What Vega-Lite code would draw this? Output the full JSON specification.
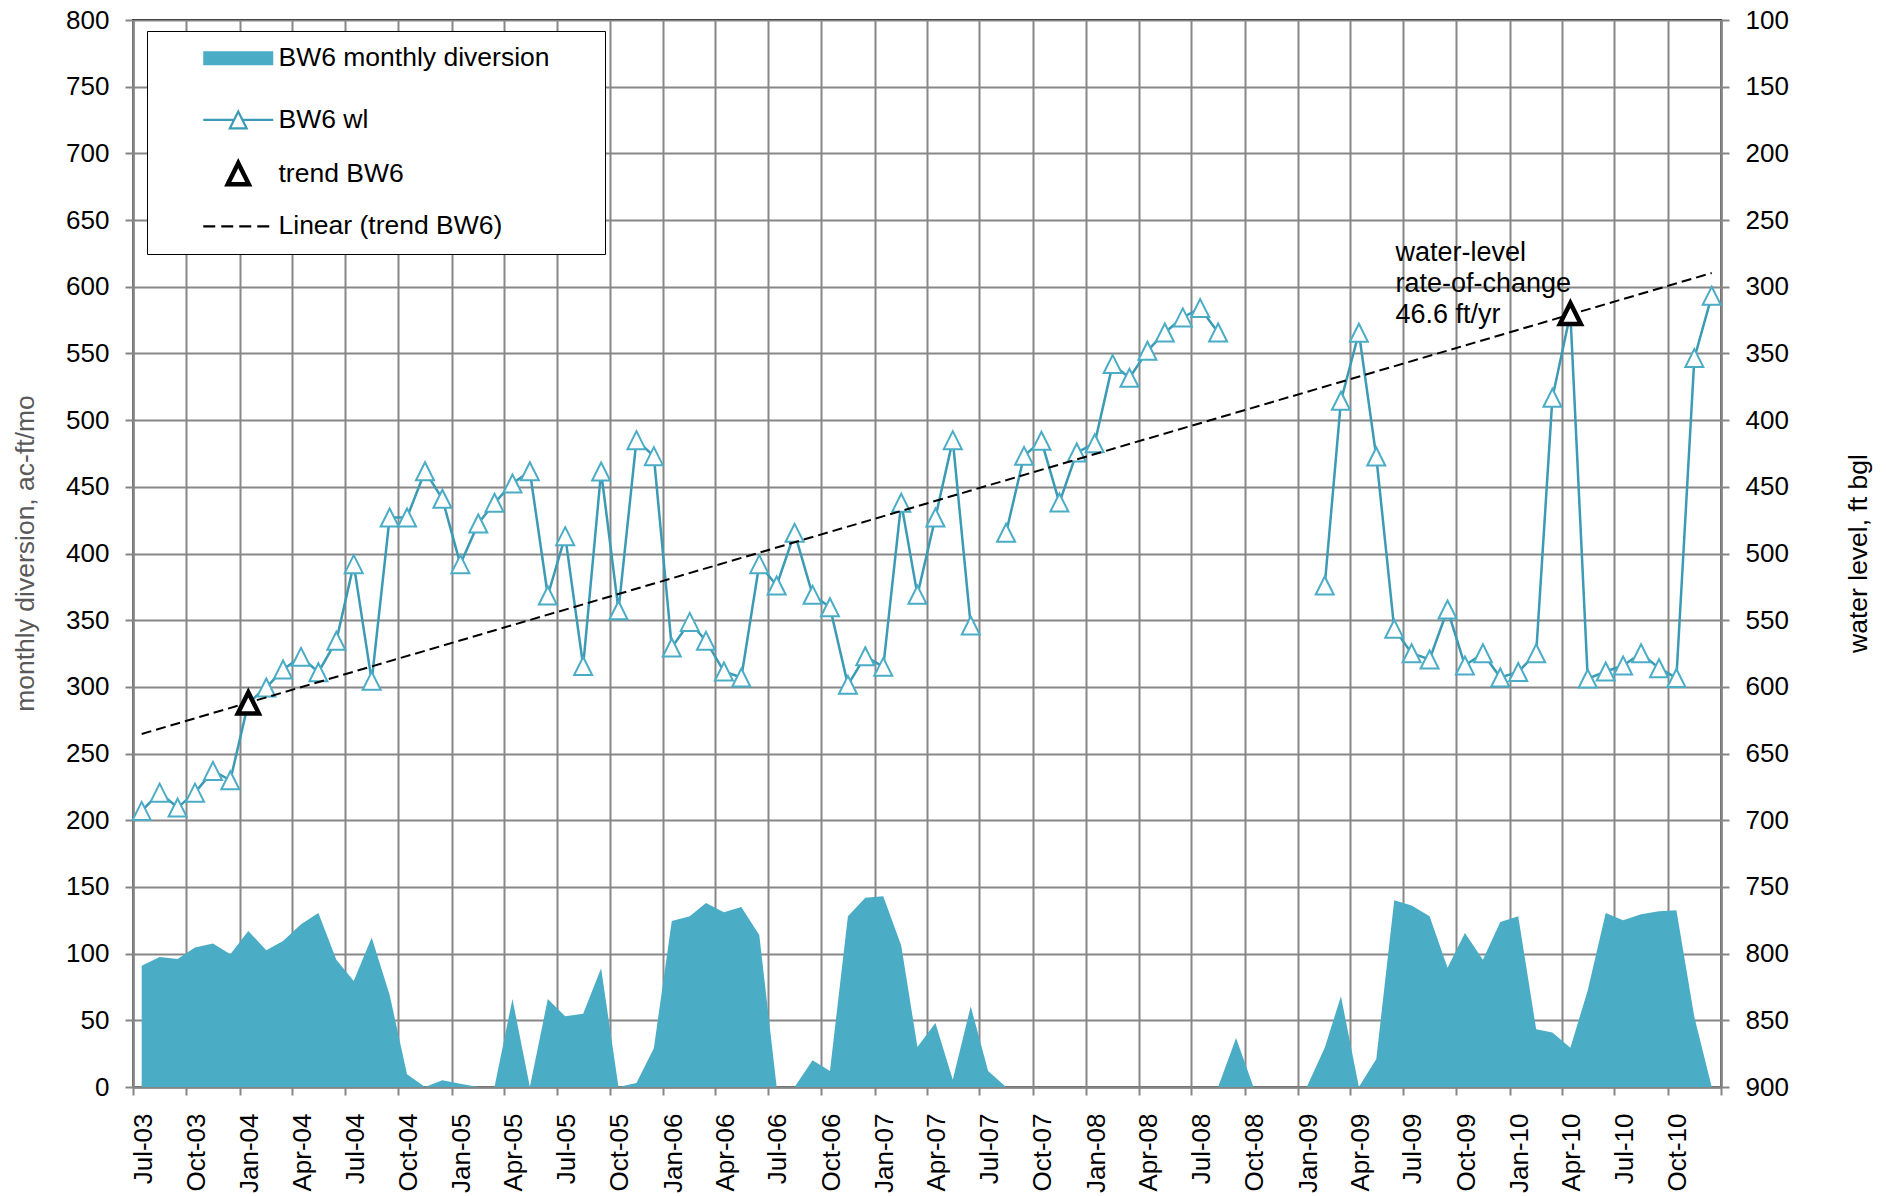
{
  "$schema": "https://vega.github.io/schema/vega-lite/v6.json",
  "width": 1588,
  "height": 1067,
  "autosize": {"type": "none"},
  "padding": {"left": 133, "top": 20, "right": 171, "bottom": 109},
  "background": "white",
  "datasets": {
    "monthly": [
      {"month": "2003-07-16", "diversion": 91, "wl": 693},
      {"month": "2003-08-16", "diversion": 97.5, "wl": 679.3},
      {"month": "2003-09-16", "diversion": 96, "wl": 690.5},
      {"month": "2003-10-16", "diversion": 104.5, "wl": 679.3},
      {"month": "2003-11-16", "diversion": 107.5, "wl": 663},
      {"month": "2003-12-16", "diversion": 99.5, "wl": 670},
      {"month": "2004-01-16", "diversion": 117, "wl": 612},
      {"month": "2004-02-16", "diversion": 102.5, "wl": 600.5},
      {"month": "2004-03-16", "diversion": 109.5, "wl": 587},
      {"month": "2004-04-16", "diversion": 122, "wl": 577.5},
      {"month": "2004-05-16", "diversion": 130.5, "wl": 589},
      {"month": "2004-06-16", "diversion": 95.5, "wl": 565.5},
      {"month": "2004-07-16", "diversion": 79.5, "wl": 508},
      {"month": "2004-08-16", "diversion": 112, "wl": 595.5},
      {"month": "2004-09-16", "diversion": 69, "wl": 473},
      {"month": "2004-10-16", "diversion": 9.5, "wl": 473},
      {"month": "2004-11-16", "diversion": 0, "wl": 438.3},
      {"month": "2004-12-16", "diversion": 5, "wl": 459},
      {"month": "2005-01-16", "diversion": 2.5, "wl": 508},
      {"month": "2005-02-16", "diversion": 0, "wl": 477.5},
      {"month": "2005-03-16", "diversion": 0, "wl": 462},
      {"month": "2005-04-16", "diversion": 66, "wl": 447.5},
      {"month": "2005-05-16", "diversion": 0, "wl": 438.3},
      {"month": "2005-06-16", "diversion": 66, "wl": 531.5},
      {"month": "2005-07-16", "diversion": 53, "wl": 487},
      {"month": "2005-08-16", "diversion": 55, "wl": 584.3},
      {"month": "2005-09-16", "diversion": 89, "wl": 438.5},
      {"month": "2005-10-16", "diversion": 0, "wl": 542.5},
      {"month": "2005-11-16", "diversion": 3, "wl": 415},
      {"month": "2005-12-16", "diversion": 29, "wl": 427},
      {"month": "2006-01-16", "diversion": 124.5, "wl": 570.5},
      {"month": "2006-02-16", "diversion": 128, "wl": 551.3},
      {"month": "2006-03-16", "diversion": 138, "wl": 565.5},
      {"month": "2006-04-16", "diversion": 131, "wl": 588.5},
      {"month": "2006-05-16", "diversion": 135, "wl": 593},
      {"month": "2006-06-16", "diversion": 114, "wl": 508},
      {"month": "2006-07-16", "diversion": 0, "wl": 524},
      {"month": "2006-08-16", "diversion": 0, "wl": 484.5},
      {"month": "2006-09-16", "diversion": 20, "wl": 531},
      {"month": "2006-10-16", "diversion": 12, "wl": 540.3},
      {"month": "2006-11-16", "diversion": 128, "wl": 598.5},
      {"month": "2006-12-16", "diversion": 141.8, "wl": 577},
      {"month": "2007-01-16", "diversion": 143, "wl": 585},
      {"month": "2007-02-16", "diversion": 106, "wl": 462},
      {"month": "2007-03-16", "diversion": 30, "wl": 531},
      {"month": "2007-04-16", "diversion": 48, "wl": 473},
      {"month": "2007-05-16", "diversion": 5.5, "wl": 415},
      {"month": "2007-06-16", "diversion": 60.5, "wl": 554},
      {"month": "2007-07-16", "diversion": 12, "wl": null},
      {"month": "2007-08-16", "diversion": 0, "wl": 484.5},
      {"month": "2007-09-16", "diversion": 0, "wl": 426.8},
      {"month": "2007-10-16", "diversion": 0, "wl": 415.5},
      {"month": "2007-11-16", "diversion": 0, "wl": 461.8},
      {"month": "2007-12-16", "diversion": 0, "wl": 424.3},
      {"month": "2008-01-16", "diversion": 0, "wl": 417.3},
      {"month": "2008-02-16", "diversion": 0, "wl": 358},
      {"month": "2008-03-16", "diversion": 0, "wl": 368.3},
      {"month": "2008-04-16", "diversion": 0, "wl": 348},
      {"month": "2008-05-16", "diversion": 0, "wl": 334.3},
      {"month": "2008-06-16", "diversion": 0, "wl": 323},
      {"month": "2008-07-16", "diversion": 0, "wl": 316},
      {"month": "2008-08-16", "diversion": 0, "wl": 334.3},
      {"month": "2008-09-16", "diversion": 36.8, "wl": null},
      {"month": "2008-10-16", "diversion": 0, "wl": null},
      {"month": "2008-11-16", "diversion": 0, "wl": null},
      {"month": "2008-12-16", "diversion": 0, "wl": null},
      {"month": "2009-01-16", "diversion": 0, "wl": null},
      {"month": "2009-02-16", "diversion": 29.5, "wl": 524},
      {"month": "2009-03-16", "diversion": 68, "wl": 385.5},
      {"month": "2009-04-16", "diversion": 0, "wl": 334.5},
      {"month": "2009-05-16", "diversion": 21, "wl": 427.3},
      {"month": "2009-06-16", "diversion": 140, "wl": 556.5},
      {"month": "2009-07-16", "diversion": 136, "wl": 574.8},
      {"month": "2009-08-16", "diversion": 128, "wl": 579.5},
      {"month": "2009-09-16", "diversion": 89.5, "wl": 542},
      {"month": "2009-10-16", "diversion": 115.5, "wl": 584},
      {"month": "2009-11-16", "diversion": 95.5, "wl": 574.8},
      {"month": "2009-12-16", "diversion": 123.8, "wl": 593},
      {"month": "2010-01-16", "diversion": 128, "wl": 588.8},
      {"month": "2010-02-16", "diversion": 43.3, "wl": 574.8},
      {"month": "2010-03-16", "diversion": 40.8, "wl": 383.3},
      {"month": "2010-04-16", "diversion": 29.5, "wl": 320},
      {"month": "2010-05-16", "diversion": 72.5, "wl": 593.8},
      {"month": "2010-06-16", "diversion": 130.5, "wl": 588.5},
      {"month": "2010-07-16", "diversion": 125, "wl": 584},
      {"month": "2010-08-16", "diversion": 129.5, "wl": 574.8},
      {"month": "2010-09-16", "diversion": 131.8, "wl": 586},
      {"month": "2010-10-16", "diversion": 132.5, "wl": 593.3},
      {"month": "2010-11-16", "diversion": 52.5, "wl": 353.5},
      {"month": "2010-12-16", "diversion": 0, "wl": 306.8}
    ],
    "trendpts": [
      {"month": "2004-01-16", "wl": 612},
      {"month": "2010-04-16", "wl": 320}
    ],
    "trendline": [
      {"month": "2003-07-16", "wl": 635.3},
      {"month": "2010-12-16", "wl": 289.7}
    ],
    "note": [
      {"month": "2009-06-18", "wl": 280.5, "label": ["water-level", "rate-of-change", "46.6 ft/yr"]}
    ]
  },
  "layer": [
    {
      "data": {"name": "monthly"},
      "mark": {"type": "area", "interpolate": "linear", "color": "#4BACC6", "opacity": 1},
      "encoding": {
        "x": {
          "field": "month",
          "type": "temporal",
          "scale": {
            "type": "utc",
            "nice": false,
            "domain": [
              {"year": 2003, "month": 7, "date": 1, "utc": true},
              {"year": 2011, "month": 1, "date": 1, "utc": true}
            ]
          },
          "axis": {
            "title": null,
            "grid": true,
            "values": [
              {"year": 2003, "month": 7, "date": 1, "utc": true},
              {"year": 2003, "month": 10, "date": 1, "utc": true},
              {"year": 2004, "month": 1, "date": 1, "utc": true},
              {"year": 2004, "month": 4, "date": 1, "utc": true},
              {"year": 2004, "month": 7, "date": 1, "utc": true},
              {"year": 2004, "month": 10, "date": 1, "utc": true},
              {"year": 2005, "month": 1, "date": 1, "utc": true},
              {"year": 2005, "month": 4, "date": 1, "utc": true},
              {"year": 2005, "month": 7, "date": 1, "utc": true},
              {"year": 2005, "month": 10, "date": 1, "utc": true},
              {"year": 2006, "month": 1, "date": 1, "utc": true},
              {"year": 2006, "month": 4, "date": 1, "utc": true},
              {"year": 2006, "month": 7, "date": 1, "utc": true},
              {"year": 2006, "month": 10, "date": 1, "utc": true},
              {"year": 2007, "month": 1, "date": 1, "utc": true},
              {"year": 2007, "month": 4, "date": 1, "utc": true},
              {"year": 2007, "month": 7, "date": 1, "utc": true},
              {"year": 2007, "month": 10, "date": 1, "utc": true},
              {"year": 2008, "month": 1, "date": 1, "utc": true},
              {"year": 2008, "month": 4, "date": 1, "utc": true},
              {"year": 2008, "month": 7, "date": 1, "utc": true},
              {"year": 2008, "month": 10, "date": 1, "utc": true},
              {"year": 2009, "month": 1, "date": 1, "utc": true},
              {"year": 2009, "month": 4, "date": 1, "utc": true},
              {"year": 2009, "month": 7, "date": 1, "utc": true},
              {"year": 2009, "month": 10, "date": 1, "utc": true},
              {"year": 2010, "month": 1, "date": 1, "utc": true},
              {"year": 2010, "month": 4, "date": 1, "utc": true},
              {"year": 2010, "month": 7, "date": 1, "utc": true},
              {"year": 2010, "month": 10, "date": 1, "utc": true},
              {"year": 2011, "month": 1, "date": 1, "utc": true}
            ],
            "labelExpr": "utcyear(datum.value) >= 2011 ? '' : utcFormat(datum.value, '%b-%y')",
            "labelAngle": 270,
            "labelOffset": 10,
            "labelPadding": 18,
            "labelFlush": false,
            "labelOverlap": false,
            "labelBound": false,
            "tickSize": 8
          }
        },
        "y": {
          "field": "diversion",
          "type": "quantitative",
          "scale": {"domain": [0, 800], "nice": false},
          "axis": {
            "values": [0, 50, 100, 150, 200, 250, 300, 350, 400, 450, 500, 550, 600, 650, 700, 750, 800],
            "grid": true,
            "title": "monthly diversion, ac-ft/mo",
            "titleColor": "#595959",
            "titleAngle": 270,
            "titleX": -108,
            "titleY": 533,
            "titleAlign": "center",
            "titleBaseline": "middle"
          }
        }
      }
    },
    {
      "layer": [
        {
          "data": {"name": "monthly"},
          "mark": {"type": "line", "strokeWidth": 2.5, "invalid": "break-paths-show-domains"},
          "encoding": {
            "x": {"field": "month", "type": "temporal"},
            "y": {
              "field": "wl",
              "type": "quantitative",
              "scale": {"domain": [100, 900], "reverse": true, "nice": false, "zero": false},
              "axis": {
                "orient": "right",
                "values": [100, 150, 200, 250, 300, 350, 400, 450, 500, 550, 600, 650, 700, 750, 800, 850, 900],
                "grid": false,
                "title": "water level, ft bgl",
                "titleColor": "#000000",
                "titleAngle": 270,
                "titleX": 137,
                "titleY": 533,
                "titleAlign": "center",
                "titleBaseline": "middle"
              }
            },
            "color": {
              "datum": "BW6 wl",
              "type": "nominal",
              "scale": {
                "domain": ["BW6 monthly diversion", "BW6 wl", "trend BW6", "Linear (trend BW6)"],
                "range": ["#4BACC6", "#3B9AB4", "#000000", "#000000"]
              },
              "legend": {
                "title": "\u00a0",
                "titleOrient": "right",
                "titlePadding": 41.5,
                "titleFontSize": 10,
                "orient": "none",
                "legendX": 14,
                "legendY": 11,
                "direction": "vertical",
                "padding": 14,
                "strokeColor": "#000000",
                "fillColor": "#ffffff",
                "labelFontSize": 26.5,
                "labelColor": "#000000",
                "labelFont": "Liberation Sans",
                "labelOffset": 27,
                "symbolOffset": 64,
                "symbolSize": 4900,
                "symbolOpacity": 1,
                "symbolFillColor": "transparent",
                "rowPadding": 19.7,
                "labelLimit": 700,
                "encode": {
                  "symbols": {
                    "update": {
                      "shape": {"signal": "datum.value === 'BW6 monthly diversion' ? 'M-1,0H1' : datum.value === 'BW6 wl' ? 'M-1,0H-0.12M0.12,0H1M0,-0.24L0.24,0.24H-0.24Z' : datum.value === 'trend BW6' ? 'M0,-0.3L0.3,0.3H-0.3Z' : 'M-1,0H1'"},
                      "fill": {"value": "transparent"},
                      "stroke": {"signal": "datum.value === 'BW6 monthly diversion' ? '#4BACC6' : datum.value === 'BW6 wl' ? '#4BACC6' : '#000000'"},
                      "strokeWidth": {"signal": "datum.value === 'trend BW6' ? 4.5 : datum.value === 'BW6 monthly diversion' ? 14 : 2.2"},
                      "strokeDash": {"signal": "datum.value === 'Linear (trend BW6)' ? [12, 6] : [1, 0]"},
                      "size": {"value": 4900},
                      "opacity": {"value": 1}
                    }
                  }
                }
              }
            }
          }
        },
        {
          "data": {"name": "monthly"},
          "mark": {"type": "point", "shape": "M0,-1L1,1L-1,1Z", "size": 324, "filled": false, "fill": "#ffffff", "fillOpacity": 1, "stroke": "#4BACC6", "strokeWidth": 2, "opacity": 1},
          "encoding": {
            "x": {"field": "month", "type": "temporal"},
            "y": {"field": "wl", "type": "quantitative"}
          }
        },
        {
          "data": {"name": "trendline"},
          "mark": {"type": "line", "strokeWidth": 2, "strokeDash": [10, 5]},
          "encoding": {
            "x": {"field": "month", "type": "temporal"},
            "y": {"field": "wl", "type": "quantitative"},
            "color": {"datum": "Linear (trend BW6)", "type": "nominal"}
          }
        },
        {
          "data": {"name": "trendpts"},
          "mark": {"type": "point", "shape": "M0,-1L1,1L-1,1Z", "size": 441, "filled": false, "fill": "#ffffff", "fillOpacity": 1, "strokeWidth": 4.5, "opacity": 1},
          "encoding": {
            "x": {"field": "month", "type": "temporal"},
            "y": {"field": "wl", "type": "quantitative"},
            "color": {"datum": "trend BW6", "type": "nominal"}
          }
        },
        {
          "data": {"name": "note"},
          "mark": {"type": "text", "align": "left", "baseline": "alphabetic", "fontSize": 27, "font": "Liberation Sans", "color": "#000000", "lineHeight": 31},
          "encoding": {
            "x": {"field": "month", "type": "temporal"},
            "y": {"field": "wl", "type": "quantitative"},
            "text": {"field": "label"}
          }
        }
      ]
    }
  ],
  "resolve": {"scale": {"y": "independent"}},
  "config": {
    "font": "Liberation Sans",
    "view": {"stroke": "#000000", "strokeWidth": 2},
    "axis": {
      "labelFont": "Liberation Sans",
      "labelFontSize": 26,
      "labelColor": "#000000",
      "titleFont": "Liberation Sans",
      "titleFontSize": 26.5,
      "titleFontWeight": "normal",
      "domainColor": "#868686",
      "domainWidth": 2.5,
      "tickColor": "#868686",
      "tickWidth": 2,
      "tickSize": 8,
      "gridColor": "#878787",
      "gridWidth": 2,
      "gridOpacity": 1,
      "labelPadding": 16
    }
  }
}
